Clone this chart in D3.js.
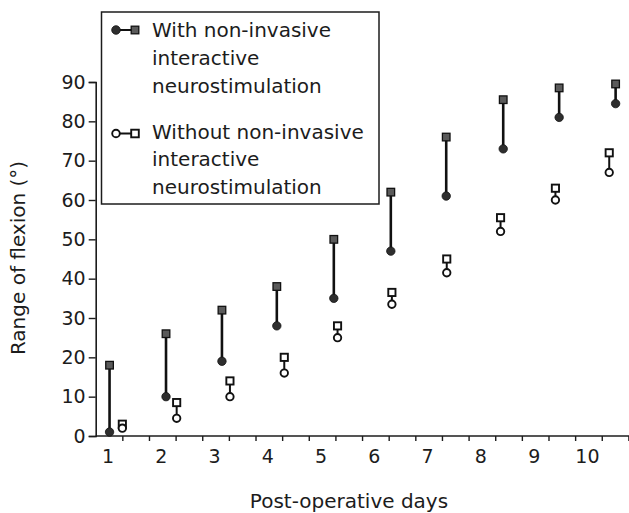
<!DOCTYPE html>
<html>
<head>
<meta charset="utf-8">
<script src="https://cdn.jsdelivr.net/npm/d3@7"></script>
<style>
  html, body { margin: 0; padding: 0; background: #fff; }
  svg { display: block; }
  text { font-family: "DejaVu Sans", sans-serif; fill: #1c1c1c; }
</style>
</head>
<body>
<svg id="chart" width="629" height="513"></svg>
<script>
// ---- data ----
const days = [1, 2, 3, 4, 5, 6, 7, 8, 9, 10];
// plotted horizontal position (in days) of each pair
const withX    = [1.01, 2.07, 3.12, 4.15, 5.22, 6.29, 7.33, 8.40, 9.45, 10.51];
const withoutX = [1.25, 2.27, 3.27, 4.29, 5.29, 6.31, 7.34, 8.35, 9.38, 10.39];
// With non-invasive interactive neurostimulation (square = upper, circle = lower)
const withUpper = [18, 26, 32, 38, 50, 62, 76, 85.5, 88.5, 89.5];
const withLower = [1, 10, 19, 28, 35, 47, 61, 73, 81, 84.5];
// Without non-invasive interactive neurostimulation
const withoutUpper = [3, 8.5, 14, 20, 28, 36.5, 45, 55.5, 63, 72];
const withoutLower = [2, 4.5, 10, 16, 25, 33.5, 41.5, 52, 60, 67];
const yTicks = [0, 10, 20, 30, 40, 50, 60, 70, 80, 90];
const xMinorTicks = [1.25, 1.75, 2.25, 2.75, 3.25, 3.75, 4.25, 4.75, 5.25, 5.75, 6.25, 6.75, 7.25, 7.75, 8.25, 8.75, 9.25, 9.75, 10.25, 10.75];
const legendWith = ["With non-invasive", "interactive", "neurostimulation"];
const legendWithout = ["Without non-invasive", "interactive", "neurostimulation"];
const xTitle = "Post-operative days";
const yTitle = "Range of flexion (°)";

// ---- layout ----
const svg = d3.select("#chart");
const x = d3.scaleLinear().domain([0.75, 10.75]).range([95.7, 628.4]);
const y = d3.scaleLinear().domain([0, 90]).range([436, 82]);
const ink = "#1c1c1c";

// y axis
const gy = svg.append("g").attr("transform", `translate(${x(0.75)},0)`)
  .call(d3.axisLeft(y).tickValues(yTicks).tickSize(7).tickPadding(3).tickFormat(d3.format("d")));
gy.select(".domain").attr("stroke", ink).attr("stroke-width", 1.6);
gy.selectAll(".tick line").attr("stroke", ink).attr("stroke-width", 1.4);
gy.selectAll(".tick text").style("font-size", "19px").style("font-family", "DejaVu Sans").attr("fill", ink);

// x axis: minor tick marks
const gx = svg.append("g").attr("transform", `translate(0,${y(0)})`)
  .call(d3.axisBottom(x).tickValues(xMinorTicks).tickSize(5).tickFormat(""));
gx.select(".domain").attr("stroke", ink).attr("stroke-width", 1.6).attr("d", `M${x(0.75)},0H629`);
gx.selectAll(".tick line").attr("stroke", ink).attr("stroke-width", 1.4);

// x axis: day labels
const gxl = svg.append("g").attr("transform", `translate(0,${y(0)})`)
  .call(d3.axisBottom(x).tickValues(days).tickSize(0).tickFormat(d3.format("d")));
gxl.select(".domain").remove();
gxl.selectAll(".tick text").attr("y", 27).attr("dy", 0).attr("dx", -1.5)
  .style("font-size", "19px").style("font-family", "DejaVu Sans").attr("fill", ink);

// axis titles
svg.append("text").attr("x", 349).attr("y", 508).attr("text-anchor", "middle")
  .style("font-size", "20px").text(xTitle);
svg.append("text").attr("transform", `translate(25,${258}) rotate(-90)`).attr("text-anchor", "middle")
  .style("font-size", "20px").text(yTitle);

// ---- marks ----
const withData = days.map((d, i) => ({ x: withX[i], hi: withUpper[i], lo: withLower[i] }));
const withoutData = days.map((d, i) => ({ x: withoutX[i], hi: withoutUpper[i], lo: withoutLower[i] }));

const gWith = svg.append("g");
gWith.selectAll("line").data(withData).join("line")
  .attr("x1", d => x(d.x)).attr("x2", d => x(d.x))
  .attr("y1", d => y(d.hi)).attr("y2", d => y(d.lo))
  .attr("stroke", "#111").attr("stroke-width", 2.6);
gWith.selectAll("rect").data(withData).join("rect")
  .attr("x", d => x(d.x) - 3.8).attr("y", d => y(d.hi) - 3.8)
  .attr("width", 7.6).attr("height", 7.6)
  .attr("fill", "#5a5a5a").attr("stroke", "#111").attr("stroke-width", 1.3);
gWith.selectAll("circle").data(withData).join("circle")
  .attr("cx", d => x(d.x)).attr("cy", d => y(d.lo)).attr("r", 4.2)
  .attr("fill", "#2e2e2e").attr("stroke", "#111").attr("stroke-width", 0.8);

const gWo = svg.append("g");
gWo.selectAll("line").data(withoutData).join("line")
  .attr("x1", d => x(d.x)).attr("x2", d => x(d.x))
  .attr("y1", d => y(d.hi)).attr("y2", d => y(d.lo))
  .attr("stroke", "#111").attr("stroke-width", 2);
gWo.selectAll("rect").data(withoutData).join("rect")
  .attr("x", d => x(d.x) - 3.6).attr("y", d => y(d.hi) - 3.6)
  .attr("width", 7.2).attr("height", 7.2)
  .attr("fill", "#fff").attr("stroke", "#111").attr("stroke-width", 1.9);
gWo.selectAll("circle").data(withoutData).join("circle")
  .attr("cx", d => x(d.x)).attr("cy", d => y(d.lo)).attr("r", 3.7)
  .attr("fill", "#fff").attr("stroke", "#111").attr("stroke-width", 1.9);

// ---- legend ----
const lg = svg.append("g");
lg.append("rect").attr("x", 101.5).attr("y", 12).attr("width", 277.5).attr("height", 192)
  .attr("fill", "#fff").attr("stroke", ink).attr("stroke-width", 1.5);

function legendEntry(sy, filled, lines, by) {
  lg.append("line").attr("x1", 116).attr("x2", 135).attr("y1", sy).attr("y2", sy)
    .attr("stroke", "#111").attr("stroke-width", 2);
  lg.append("circle").attr("cx", 116).attr("cy", sy).attr("r", filled ? 4.3 : 3.8)
    .attr("fill", filled ? "#2e2e2e" : "#fff").attr("stroke", "#111").attr("stroke-width", filled ? 0.8 : 1.9);
  lg.append("rect").attr("x", 135 - 3.8).attr("y", sy - 3.8).attr("width", 7.6).attr("height", 7.6)
    .attr("fill", filled ? "#5a5a5a" : "#fff").attr("stroke", "#111").attr("stroke-width", filled ? 1.3 : 1.9);
  lines.forEach((t, i) => {
    lg.append("text").attr("x", 152).attr("y", by + i * 27.8).style("font-size", "20px").text(t);
  });
}
legendEntry(30, true, legendWith, 37);
legendEntry(133.5, false, legendWithout, 138.5);
</script>
</body>
</html>
